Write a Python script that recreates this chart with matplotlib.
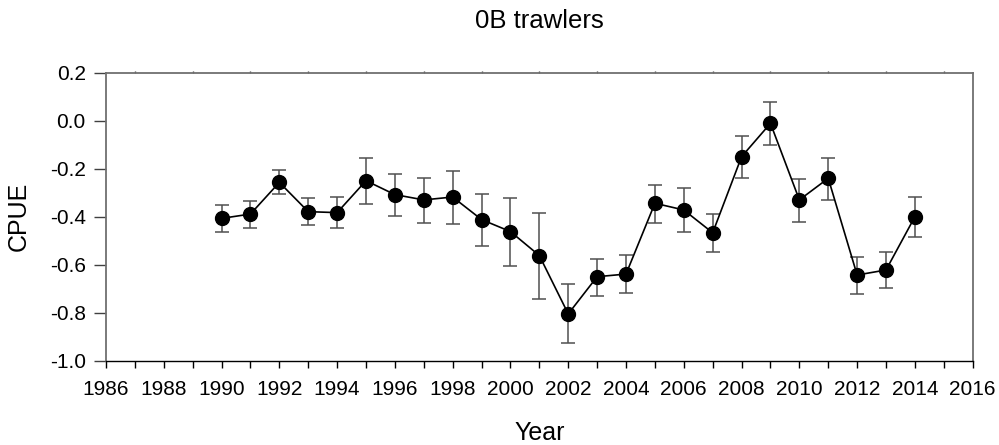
import matplotlib
matplotlib.use("Agg")
import matplotlib.pyplot as plt
from matplotlib.ticker import MultipleLocator, FormatStrFormatter

plt.rcParams['font.family'] = ['Liberation Sans', 'DejaVu Sans']

years = [1990, 1991, 1992, 1993, 1994, 1995, 1996, 1997, 1998, 1999, 2000, 2001,
         2002, 2003, 2004, 2005, 2006, 2007, 2008, 2009, 2010, 2011, 2012, 2013, 2014]
cpue = [-0.407, -0.389, -0.257, -0.379, -0.383, -0.250, -0.308, -0.330, -0.318, -0.412,
        -0.462, -0.562, -0.805, -0.650, -0.639, -0.344, -0.372, -0.467, -0.150, -0.011,
        -0.330, -0.240, -0.643, -0.622, -0.400]
upper = [-0.351, -0.333, -0.207, -0.323, -0.319, -0.155, -0.221, -0.237, -0.210, -0.304,
         -0.323, -0.386, -0.681, -0.575, -0.558, -0.267, -0.279, -0.387, -0.065, 0.077,
         -0.242, -0.154, -0.567, -0.547, -0.317]
lower = [-0.464, -0.446, -0.305, -0.433, -0.447, -0.347, -0.398, -0.428, -0.429, -0.522,
         -0.605, -0.743, -0.928, -0.732, -0.719, -0.428, -0.465, -0.548, -0.237, -0.103,
         -0.422, -0.329, -0.723, -0.697, -0.486]

title = "0B trawlers"
xlabel = "Year"
ylabel = "CPUE"

err_lo = [c - l for c, l in zip(cpue, lower)]
err_hi = [u - c for c, u in zip(cpue, upper)]

fig = plt.figure(figsize=(9.99, 4.45), dpi=100)
ax = fig.add_axes([106/999, 1 - 360.7/445, (972.7-106)/999, (360.7-72.7)/445])

ax.errorbar(years, cpue, yerr=[err_lo, err_hi], fmt='none', ecolor='#505050',
            elinewidth=1.1, capsize=5.3, capthick=1.1, zorder=2)
ax.plot(years, cpue, color='black', linewidth=1.2, marker='o', markersize=10,
        markerfacecolor='black', markeredgecolor='black', zorder=3)

ax.set_xlim(1986, 2016)
ax.set_ylim(-1.0, 0.2)
ax.xaxis.set_major_locator(MultipleLocator(2))
ax.xaxis.set_minor_locator(MultipleLocator(1))
ax.yaxis.set_major_locator(MultipleLocator(0.2))
ax.yaxis.set_major_formatter(FormatStrFormatter('%.1f'))

ax.tick_params(axis='x', which='both', direction='out', length=5, width=1.0,
               labelsize=15, pad=9, color='black')
ax.tick_params(axis='y', which='major', direction='out', length=8.5, width=1.0,
               labelsize=15, pad=6, color='#404040')

for side in ['left', 'top', 'right']:
    ax.spines[side].set_color('#707070')
    ax.spines[side].set_linewidth(1.3)
ax.spines['bottom'].set_color('black')
ax.spines['bottom'].set_linewidth(1.0)

sec = ax.secondary_xaxis('top')
sec.set_xticks(list(range(1987, 2016, 2)))
sec.tick_params(direction='out', length=1.5, width=1.0, labeltop=False, color='#404040')
sec.spines['top'].set_visible(False)

ax.set_ylabel(ylabel, fontsize=18)
ax.yaxis.set_label_coords(-(106-19)/(972.7-106), 0.5)
ax.set_xlabel(xlabel, fontsize=18)
ax.xaxis.set_label_coords(0.5, -(433-360.7)/(360.7-72.7))
ax.xaxis.label.set_verticalalignment('center')
ax.yaxis.label.set_verticalalignment('center')

fig.text((106+972.7)/2/999, 1 - 21/445, title, fontsize=18.5, ha='center', va='center')

fig.savefig('out.png', dpi=100)
